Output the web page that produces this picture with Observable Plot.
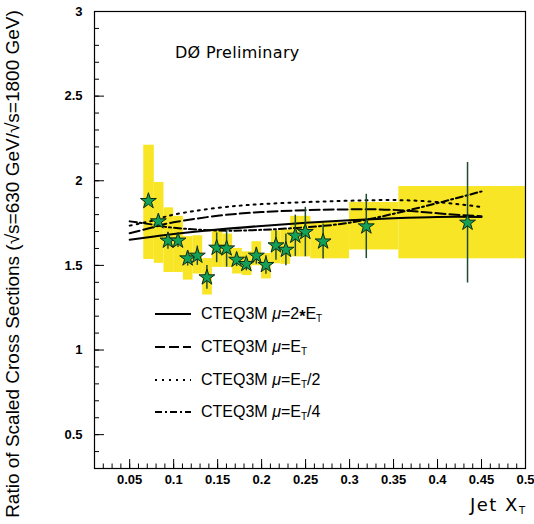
<!DOCTYPE html>
<html><head><meta charset="utf-8">
<script src="https://cdn.jsdelivr.net/npm/d3@7"></script>
<script src="https://cdn.jsdelivr.net/npm/@observablehq/plot@0.6"></script>
<style>
body{margin:0;background:#fff;}
#wrap{position:relative;width:534px;height:524px;overflow:hidden;}
#wrap svg.plot{position:absolute;left:0;top:0;}
.ov{position:absolute;white-space:nowrap;color:#000;}
#ytitle{left:13px;top:264px;transform:translate(-50%,-50%) rotate(-90deg);font:19px "Liberation Sans",Arial,sans-serif;}
#d0{left:175px;top:43px;font:16px "DejaVu Sans",sans-serif;letter-spacing:0.3px;}
#xtitle{right:9px;top:494px;font:18px "DejaVu Sans",sans-serif;letter-spacing:1.5px;}
.leg{left:155px;height:20px;font:16px "Liberation Sans",Arial,sans-serif;display:flex;align-items:center;}
.leg svg{margin-right:10px;}
.ast{position:relative;top:3px;font-weight:bold;}
sub{font-size:10px;vertical-align:-3px;letter-spacing:0;}
</style></head><body><div id="wrap"></div>
<script>
// ---- data ----
const xT      = [0.0713,0.0826,0.0935,0.1049,0.1159,0.1269,0.1378,0.1489,0.1602,0.1716,0.1826,0.1940,0.2049,0.2163,0.2276,0.2383,0.2497,0.2699,0.3190,0.4341];
const ratio   = [1.880,1.760,1.646,1.646,1.541,1.557,1.429,1.604,1.600,1.533,1.508,1.557,1.502,1.618,1.592,1.675,1.697,1.641,1.730,1.752];
const statErr = [0.020,0.030,0.050,0.040,0.045,0.057,0.070,0.088,0.110,0.040,0.040,0.050,0.055,0.087,0.094,0.122,0.146,0.103,0.190,0.356];

const sysX1 = [0.066,0.078,0.089,0.100,0.111,0.122,0.133,0.144,0.156,0.167,0.178,0.189,0.200,0.211,0.222,0.233,0.244,0.256,0.300,0.356];
const sysX2 = [0.078,0.089,0.100,0.111,0.122,0.133,0.144,0.156,0.167,0.178,0.189,0.200,0.211,0.222,0.233,0.244,0.256,0.300,0.356,0.500];
const sysHi = [2.210,1.990,1.840,1.790,1.670,1.675,1.540,1.700,1.685,1.600,1.580,1.640,1.570,1.705,1.710,1.790,1.790,1.754,1.872,1.966];
const sysLo = [1.535,1.512,1.458,1.458,1.413,1.449,1.325,1.488,1.488,1.449,1.440,1.498,1.420,1.510,1.506,1.550,1.550,1.539,1.591,1.539];

const theoryX  = [0.05,0.08,0.10,0.15,0.20,0.25,0.30,0.35,0.40,0.45];
const cteq2Et  = [1.652,1.672,1.685,1.712,1.733,1.752,1.767,1.778,1.786,1.786];
const cteqEt   = [1.690,1.730,1.755,1.793,1.815,1.826,1.831,1.828,1.808,1.790];
const cteqEt2  = [1.735,1.770,1.800,1.840,1.862,1.874,1.882,1.886,1.874,1.845];
const cteqEt4  = [1.760,1.738,1.722,1.706,1.710,1.725,1.752,1.805,1.868,1.937];

const xTickValues = [0.05,0.1,0.15,0.2,0.25,0.3,0.35,0.4,0.45,0.5];
const xTickLabels = ["0.05","0.1","0.15","0.2","0.25","0.3","0.35","0.4","0.45","0.5"];
const yTickValues = [0.5,1,1.5,2,2.5,3];
const yTickLabels = ["0.5","1","1.5","2","2.5","3"];

const legendNames = ["CTEQ3M <i>μ</i>=2<span class=\"ast\">*</span>E<sub>T</sub>","CTEQ3M <i>μ</i>=E<sub>T</sub>","CTEQ3M <i>μ</i>=E<sub>T</sub>/2","CTEQ3M <i>μ</i>=E<sub>T</sub>/4"];
const legendDash  = [null,"10,4","2,5","7,3,2,3"];

// ---- layout ----
const W=534,H=524,mL=94,mR=9,mT=11,mB=56;
const fw=W-mL-mR, fh=H-mT-mB;
const YELLOW="#f8e626", GREEN="#13a058", BAR="#1f4a30";

const points = xT.map((x,i)=>({x, y:ratio[i], lo:ratio[i]-statErr[i], hi:ratio[i]+statErr[i]}));
const sys = sysX1.map((x1,i)=>({x1, x2:sysX2[i], y1:sysLo[i], y2:sysHi[i]}));
const curves = [cteq2Et,cteqEt,cteqEt2,cteqEt4].map((ys,k)=>theoryX.map((x,i)=>({x,y:ys[i],k})));

const xMinor = d3.range(0.01,0.5001,0.01);
const yMinor = d3.range(0.3,3.0001,0.1);

const plot = Plot.plot({
  width:W, height:H, marginLeft:mL, marginRight:mR, marginTop:mT, marginBottom:mB,
  x:{domain:[0.01,0.5]}, y:{domain:[0.3,3]},
  style:{fontFamily:'"Liberation Sans",Arial,sans-serif', fontSize:"13px", background:"white", color:"black"},
  marks:[
    Plot.rect(sys,{x1:"x1",x2:"x2",y1:"y1",y2:"y2",fill:YELLOW}),
    ...curves.map((c,k)=>Plot.line(c,{x:"x",y:"y",curve:"natural",stroke:"black",strokeWidth:2,
        strokeDasharray: legendDash[k]||undefined})),
    Plot.ruleX(points,{x:"x",y1:"lo",y2:"hi",stroke:BAR,strokeWidth:1.5}),
    Plot.dot(points,{x:"x",y:"y",symbol:"star",r:5,fill:GREEN,stroke:"#102a14",strokeWidth:1}),
    Plot.frame({stroke:"black",strokeWidth:1.2}),
    Plot.tickX(xMinor,{x:d=>d,insetTop:fh-4.5,stroke:"black"}),
    Plot.tickX(xTickValues,{x:d=>d,insetTop:fh-9,stroke:"black"}),
    Plot.tickY(yMinor,{y:d=>d,insetRight:fw-5,stroke:"black"}),
    Plot.tickY(yTickValues,{y:d=>d,insetRight:fw-10,stroke:"black"}),
    Plot.axisX({ticks:xTickValues,tickFormat:d=>xTickLabels[xTickValues.indexOf(d)],tickSize:0,tickPadding:6,label:null,fontWeight:"bold"}),
    Plot.axisY({ticks:yTickValues,tickFormat:d=>yTickLabels[yTickValues.indexOf(d)],tickSize:0,tickPadding:12,label:null,fontWeight:"bold"})
  ]
});
plot.classList.add("plot");
const wrap=document.getElementById("wrap");
wrap.appendChild(plot);

function addDiv(id,cls,html,style){const d=document.createElement("div");if(id)d.id=id;d.className=cls;d.innerHTML=html;if(style)Object.assign(d.style,style);wrap.appendChild(d);return d;}
addDiv("ytitle","ov","Ratio of Scaled Cross Sections (√s=630 GeV/√s=1800 GeV)");
addDiv("d0","ov","DØ Preliminary");
addDiv("xtitle","ov","Jet X<sub>T</sub>");
const legTops=[304,337,370,402];
legendNames.forEach((name,k)=>{
  const dash=legendDash[k]?` stroke-dasharray="${legendDash[k]}"`:"";
  addDiv(null,"ov leg",`<svg width="36" height="6"><line x1="0" y1="3" x2="36" y2="3" stroke="black" stroke-width="2"${dash}/></svg><span>${name}</span>`,{top:legTops[k]+"px"});
});
</script></body></html>
